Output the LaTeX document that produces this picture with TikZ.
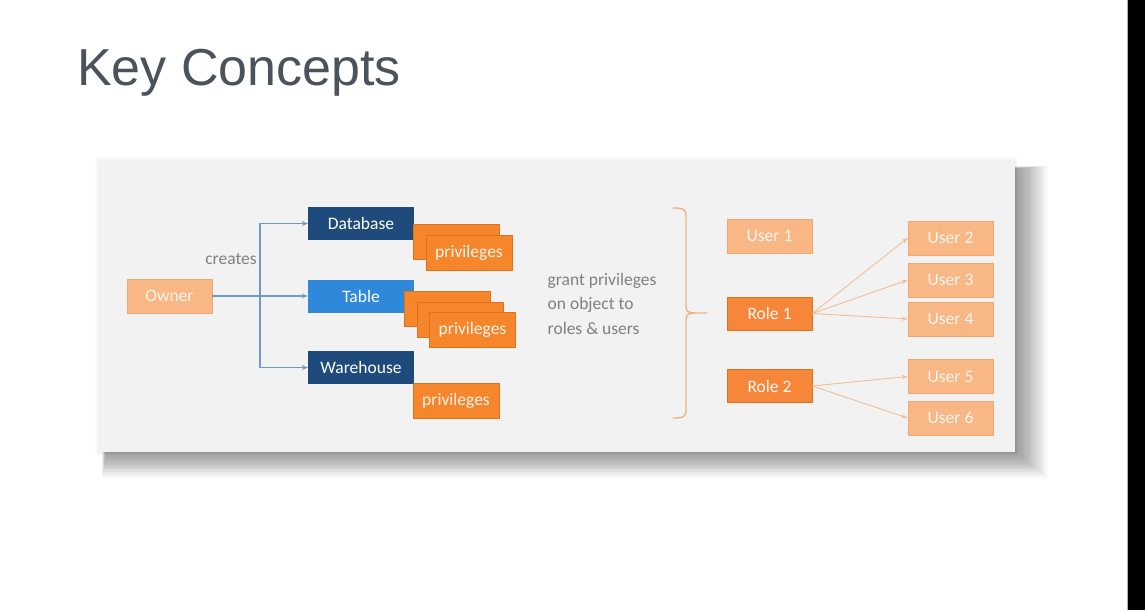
\documentclass[tikz,border=0pt]{standalone}
\usepackage{fontspec}
\setmainfont{Carlito}
\newfontfamily\titlefont{Liberation Sans}
\usetikzlibrary{arrows.meta}

\definecolor{navy}{HTML}{1F4A7C}
\definecolor{tblue}{HTML}{3088DA}
\definecolor{porange}{HTML}{F5862B}
\definecolor{porangeedge}{HTML}{E0721A}
\definecolor{lorange}{HTML}{FAB786}
\definecolor{lorangeedge}{HTML}{F2A872}
\definecolor{rorange}{HTML}{F5863A}
\definecolor{linkblue}{HTML}{6F9CC6}
\definecolor{linkorange}{HTML}{F4BE95}
\definecolor{bracecol}{HTML}{F2B27E}
\definecolor{panelbg}{HTML}{F2F2F3}
\definecolor{txtgray}{HTML}{808080}
\definecolor{titlegray}{HTML}{4A525B}

\tikzset{
  box/.style={minimum width=85pt, minimum height=34pt, inner sep=0pt,
              font=\fontsize{17.5}{20}\selectfont},
  objbox/.style={box, minimum width=106pt, minimum height=33pt, text=white},
  privbox/.style={box, minimum width=86pt, minimum height=35pt,
                  fill=porange, draw=porangeedge, line width=0.8pt, text=white!92!porange},
  lightbox/.style={box, fill=lorange, draw=lorangeedge, line width=0.6pt, text=white!88!lorange},
  rolebox/.style={box, minimum height=33pt, fill=rorange, draw=porangeedge,
                  line width=0.6pt, text=white!95!rorange},
  bluelink/.style={draw=linkblue, line width=1.2pt, -{Stealth[length=6pt,width=5pt]}},
  bluebare/.style={draw=linkblue, line width=1.2pt},
  orangelink/.style={draw=linkorange, line width=0.9pt, -{Stealth[length=6pt,width=4.5pt]}},
  note/.style={text=txtgray, font=\fontsize{17.5}{24.5}\selectfont, align=left}
}

\begin{document}
\begin{tikzpicture}[x=1pt, y=-1pt]
  % page
  \fill[white] (0,0) rectangle (1145,610);
  \useasboundingbox (0,0) rectangle (1145,610);
  \fill[black] (1128,0) rectangle (1145,610);
  \draw[gray!60, line width=0.8pt] (1127.5,0) -- (1127.5,610);

  % title
  \node[anchor=base west, inner sep=0pt, text=titlegray,
        font=\titlefont\fontsize{52}{60}\selectfont] (title) at (77,85) {Key Concepts};

  % soft drop shadow of the panel, built from stacked translucent layers
  \foreach \k in {0,...,26} {
    \fill[black, opacity=0.017]
      (102+0.15*\k, 166+0.1*\k) rectangle (1048-1.2*\k, 478-0.95*\k);
  }
  \foreach \k in {0,...,5} {
    \fill[black, opacity=0.012] (100-\k, 162-\k) rectangle (1015+0.5*\k, 452+0.5*\k);
  }
  % panel
  \fill[panelbg] (100,162) rectangle (1015,452);

  % objects created by the owner
  \node[lightbox, minimum height=34pt] (owner) at (169.5,296) {Owner};
  \node[objbox, fill=navy]  (database)  at (361,223.5) {Database};
  \node[objbox, fill=tblue] (table)     at (361,296)   {Table};
  \node[objbox, fill=navy]  (warehouse) at (361,367.5) {Warehouse};

  % privilege stacks
  \node[privbox] (dbprivA) at (456,242) {};
  \node[privbox] (dbprivB) at (469,252.5) {privileges};
  \node[privbox] (tprivA) at (447.5,309) {};
  \node[privbox] (tprivB) at (460.5,320) {};
  \node[privbox] (tprivC) at (472.5,329.5) {privileges};
  \node[privbox] (whpriv) at (456,400.5) {privileges};

  % owner creates objects
  \coordinate (split) at (260,296);
  \draw[bluelink] (owner) -- (table);
  \draw[bluebare] (split) |- (database.west);
  \draw[bluelink] (split |- database.west) -- (database.west);
  \draw[bluebare] (split) |- (warehouse.west);
  \draw[bluelink] (split |- warehouse.west) -- (warehouse.west);
  \node[text=txtgray, font=\fontsize{17.5}{20}\selectfont, anchor=base] (creates) at (231,264) {creates};

  % grant text and brace
  \node[note, anchor=north west, inner sep=0pt] (grant) at (547.5,273)
    {grant privileges\\on object to\\roles \& users};
  \draw[bracecol, line width=1.4pt, line cap=round]
    (673,208) .. controls (683,208) and (686,209) .. (686,216)
    -- (686,306) .. controls (686,311) and (688,313) .. (694,313)
    -- (707,313);
  \draw[bracecol, line width=1.4pt, line cap=round]
    (694,313) .. controls (688,313) and (686,315) .. (686,320)
    -- (686,410) .. controls (686,417) and (683,418) .. (673,418);

  % roles and users
  \node[lightbox] (user1) at (769.5,236) {User 1};
  \node[rolebox]  (role1) at (769.5,313.5) {Role 1};
  \node[rolebox]  (role2) at (769.5,386) {Role 2};
  \node[lightbox] (user2) at (950.5,238) {User 2};
  \node[lightbox] (user3) at (950.5,280) {User 3};
  \node[lightbox] (user4) at (950.5,319) {User 4};
  \node[lightbox] (user5) at (950.5,376.5) {User 5};
  \node[lightbox] (user6) at (950.5,418) {User 6};

  \draw[orangelink] (role1.east) -- (user2.west);
  \draw[orangelink] (role1.east) -- (user3.west);
  \draw[orangelink] (role1.east) -- (user4.west);
  \draw[orangelink] (role2.east) -- (user5.west);
  \draw[orangelink] (role2.east) -- (user6.west);
\end{tikzpicture}
\end{document}
